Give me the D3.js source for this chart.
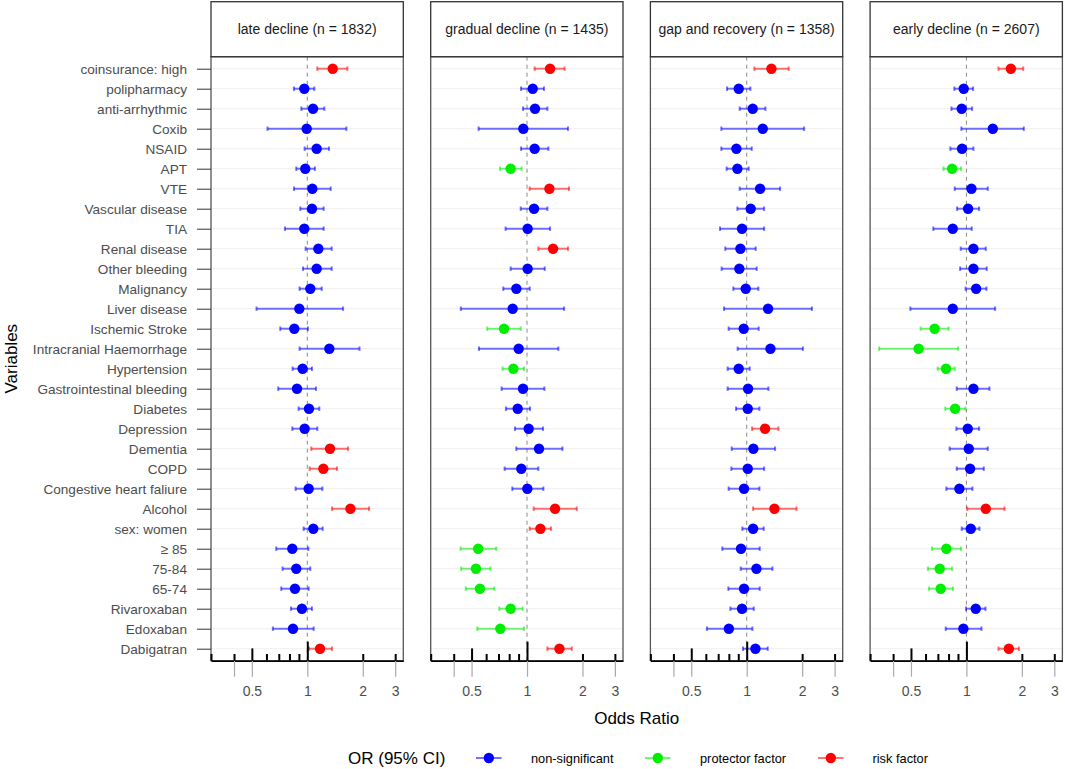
<!DOCTYPE html>
<html>
<head>
<meta charset="utf-8">
<script src="https://cdn.jsdelivr.net/npm/d3@7"></script>
<style>
  body { margin: 0; background: #fff; }
  text { font-family: "Liberation Sans", Arial, sans-serif; }
</style>
</head>
<body>
<script>
// ---------------- DATA ----------------
const variables = ["coinsurance: high","polipharmacy","anti-arrhythmic","Coxib","NSAID","APT","VTE",
  "Vascular disease","TIA","Renal disease","Other bleeding","Malignancy","Liver disease","Ischemic Stroke",
  "Intracranial Haemorrhage","Hypertension","Gastrointestinal bleeding","Diabetes","Depression","Dementia",
  "COPD","Congestive heart faliure","Alcohol","sex: women","\u2265 85","75-84","65-74","Rivaroxaban",
  "Edoxaban","Dabigatran"];

const panelTitles = ["late decline (n = 1832)","gradual decline (n = 1435)","gap and recovery (n = 1358)","early decline (n = 2607)"];

// late decline
const lateOR = [1.374,0.963,1.074,0.992,1.124,0.975,1.065,1.060,0.963,1.148,1.124,1.038,0.905,0.850,1.317,
  0.943,0.879,1.021,0.967,1.328,1.222,1.017,1.714,1.078,0.829,0.871,0.857,0.935,0.836,1.172];
const lateLo = [1.133,0.846,0.928,0.608,0.967,0.871,0.846,0.916,0.756,0.979,0.947,0.908,0.530,0.713,0.908,
  0.832,0.695,0.897,0.829,1.051,1.030,0.864,1.362,0.955,0.678,0.734,0.722,0.815,0.650,1.021];
const lateHi = [1.650,1.092,1.237,1.630,1.312,1.100,1.340,1.227,1.227,1.356,1.356,1.197,1.564,1.008,1.920,
  1.060,1.115,1.162,1.133,1.665,1.450,1.207,2.165,1.212,1.013,1.038,1.017,1.060,1.083,1.362];
const lateSig = ["r","n","n","n","n","n","n","n","n","n","n","n","n","n","n",
  "n","n","n","n","r","r","n","r","n","n","n","n","n","n","r"];

// gradual decline
const gradOR = [1.334,1.074,1.105,0.955,1.100,0.815,1.323,1.092,1.008,1.385,1.008,0.875,0.836,0.750,0.901,
  0.843,0.951,0.890,1.021,1.162,0.931,1.004,1.420,1.182,0.543,0.528,0.555,0.815,0.716,1.500];
const gradLo = [1.100,0.928,0.951,0.546,0.928,0.713,1.034,0.924,0.765,1.152,0.815,0.743,0.437,0.608,0.548,
  0.737,0.728,0.768,0.860,0.875,0.756,0.832,1.087,1.034,0.436,0.439,0.465,0.707,0.537,1.290];
const gradHi = [1.600,1.237,1.290,1.670,1.306,0.935,1.690,1.290,1.334,1.670,1.248,1.034,1.590,0.924,1.480,
  0.963,1.243,1.038,1.222,1.557,1.152,1.227,1.863,1.350,0.681,0.634,0.664,0.947,0.963,1.750];
const gradSig = ["r","n","n","n","n","p","r","n","n","r","n","n","n","p","n",
  "p","n","n","n","n","n","n","r","r","p","p","p","p","p","r"];

// gap and recovery
const gapOR = [1.362,0.905,1.078,1.222,0.879,0.890,1.182,1.051,0.943,0.924,0.912,0.988,1.306,0.963,1.345,
  0.905,1.017,1.013,1.258,1.087,1.013,0.967,1.414,1.083,0.931,1.129,0.967,0.943,0.800,1.115];
const gapLo = [1.100,0.782,0.916,0.728,0.728,0.778,0.916,0.890,0.716,0.765,0.731,0.846,0.753,0.798,0.893,
  0.788,0.788,0.875,1.069,0.829,0.825,0.798,1.083,0.947,0.737,0.928,0.795,0.815,0.608,0.955];
const gapHi = [1.690,1.047,1.264,2.050,1.065,1.025,1.518,1.243,1.243,1.119,1.133,1.157,2.260,1.162,2.020,
  1.038,1.312,1.172,1.487,1.426,1.243,1.172,1.863,1.237,1.177,1.379,1.177,1.092,1.074,1.300];
const gapSig = ["r","n","n","n","n","n","n","n","n","n","n","n","n","n","n",
  "n","n","n","r","n","n","n","r","n","n","n","n","n","n","n"];

// early decline
const earlyOR = [1.743,0.967,0.943,1.391,0.947,0.836,1.065,1.021,0.843,1.092,1.092,1.129,0.843,0.672,0.550,
  0.775,1.092,0.868,1.017,1.030,1.047,0.916,1.274,1.056,0.778,0.716,0.725,1.124,0.963,1.700];
const earlyLo = [1.493,0.860,0.829,0.939,0.818,0.750,0.864,0.890,0.661,0.931,0.924,0.990,0.496,0.564,0.336,
  0.698,0.886,0.768,0.882,0.811,0.886,0.778,1.010,0.943,0.650,0.618,0.626,0.995,0.772,1.493];
const earlyHi = [2.035,1.087,1.074,2.050,1.092,0.935,1.306,1.172,1.069,1.274,1.290,1.285,1.432,0.800,0.901,
  0.864,1.334,0.988,1.172,1.306,1.243,1.078,1.610,1.177,0.935,0.836,0.846,1.269,1.207,1.928];
const earlySig = ["r","n","n","n","n","p","n","n","n","n","n","n","n","p","p",
  "p","n","p","n","n","n","n","r","n","p","p","p","n","n","r"];

const xDomain = [0.3, 3.32];
const tickValuesMajor = [0.4, 0.5, 1, 2, 3];
const tickLabels = ["", "0.5", "1", "2", "3"];
const minorTicks = [0.3, 0.4, 0.6, 0.7, 0.8, 0.9, 2, 3];

const sigKeys = ["n", "p", "r"];
const sigLabels = ["non-significant", "protector factor", "risk factor"];
const sigColors = ["#0000ff", "#00ee00", "#ff0000"];

// ---------------- LAYOUT ----------------
const W = 1065, H = 769;
const panelLeft0 = 211, panelW = 192.3, panelGap = 27.4;
const panelTop = 56.7, panelBottom = 660.7, stripTop = 1.7;

const panels = [
  {title: panelTitles[0], or: lateOR, lo: lateLo, hi: lateHi, sig: lateSig},
  {title: panelTitles[1], or: gradOR, lo: gradLo, hi: gradHi, sig: gradSig},
  {title: panelTitles[2], or: gapOR, lo: gapLo, hi: gapHi, sig: gapSig},
  {title: panelTitles[3], or: earlyOR, lo: earlyLo, hi: earlyHi, sig: earlySig}
];

const color = d3.scaleOrdinal().domain(sigKeys).range(sigColors);
const y = d3.scalePoint().domain(variables).range([panelTop, panelBottom]).padding(0.6);

const svg = d3.select("body").append("svg").attr("width", W).attr("height", H);
svg.append("rect").attr("width", W).attr("height", H).attr("fill", "#fff");

panels.forEach((p, i) => {
  const x0 = panelLeft0 + i * (panelW + panelGap);
  const x = d3.scaleLog().domain(xDomain).range([x0, x0 + panelW]);
  const g = svg.append("g");
  const rows = variables.map((v, k) => ({v, or: p.or[k], lo: p.lo[k], hi: p.hi[k], sig: p.sig[k]}));

  // gridlines
  g.selectAll("line.grid").data(variables).enter().append("line")
    .attr("x1", x0).attr("x2", x0 + panelW)
    .attr("y1", d => y(d)).attr("y2", d => y(d))
    .attr("stroke", "#ebebeb").attr("stroke-width", 0.8);

  // dashed reference at 1
  g.append("line").attr("x1", x(1)).attr("x2", x(1)).attr("y1", panelTop).attr("y2", panelBottom)
    .attr("stroke", "#8a8a8a").attr("stroke-width", 1).attr("stroke-dasharray", "4,4");

  // error bars
  const eb = g.selectAll("g.eb").data(rows).enter().append("g")
    .attr("stroke", d => color(d.sig)).attr("stroke-opacity", 0.55).attr("stroke-width", 2);
  eb.append("line").attr("x1", d => x(d.lo)).attr("x2", d => x(d.hi))
    .attr("y1", d => y(d.v)).attr("y2", d => y(d.v));
  eb.append("line").attr("x1", d => x(d.lo)).attr("x2", d => x(d.lo))
    .attr("y1", d => y(d.v) - 2.2).attr("y2", d => y(d.v) + 2.2);
  eb.append("line").attr("x1", d => x(d.hi)).attr("x2", d => x(d.hi))
    .attr("y1", d => y(d.v) - 2.2).attr("y2", d => y(d.v) + 2.2);

  // points
  g.selectAll("circle.pt").data(rows).enter().append("circle")
    .attr("cx", d => x(d.or)).attr("cy", d => y(d.v)).attr("r", 5.2)
    .attr("fill", d => color(d.sig));

  // panel border
  g.append("rect").attr("x", x0).attr("y", panelTop).attr("width", panelW).attr("height", panelBottom - panelTop)
    .attr("fill", "none").attr("stroke", "#555").attr("stroke-width", 1.3);

  // strip
  g.append("rect").attr("x", x0).attr("y", stripTop).attr("width", panelW).attr("height", panelTop - stripTop)
    .attr("fill", "#fff").attr("stroke", "#333").attr("stroke-width", 1.3);
  g.append("text").attr("x", x0 + panelW / 2).attr("y", (stripTop + panelTop) / 2)
    .attr("text-anchor", "middle").attr("dominant-baseline", "central")
    .attr("font-size", 14).attr("fill", "#1a1a1a").text(p.title);

  // lower axis: grey long ticks and labels
  const ax = d3.axisBottom(x).tickValues(tickValuesMajor)
    .tickFormat((d, k) => tickLabels[k]).tickSizeInner(16).tickSizeOuter(0).tickPadding(9);
  const axg = g.append("g").attr("transform", `translate(0,${panelBottom})`).call(ax);
  axg.select(".domain").attr("stroke", "#000").attr("stroke-width", 1.6);
  axg.selectAll(".tick line").attr("stroke", "#aaa").attr("stroke-width", 1.2);
  axg.selectAll(".tick text").attr("font-size", 14).attr("fill", "#4d4d4d")
    .attr("font-family", "Liberation Sans, Arial, sans-serif");

  // inner black log ticks
  const minorAx = d3.axisBottom(x).tickValues(minorTicks).tickFormat("").tickSizeInner(-6.7).tickSizeOuter(0);
  const mg = g.append("g").attr("transform", `translate(0,${panelBottom})`).call(minorAx);
  mg.select(".domain").remove();
  mg.selectAll(".tick line").attr("stroke", "#000").attr("stroke-width", 2);
  const halfAx = d3.axisBottom(x).tickValues([0.5]).tickFormat("").tickSizeInner(-12.3).tickSizeOuter(0);
  const hg = g.append("g").attr("transform", `translate(0,${panelBottom})`).call(halfAx);
  hg.select(".domain").remove();
  hg.selectAll(".tick line").attr("stroke", "#000").attr("stroke-width", 2);
  const oneAx = d3.axisBottom(x).tickValues([1]).tickFormat("").tickSizeInner(-19).tickSizeOuter(0);
  const og = g.append("g").attr("transform", `translate(0,${panelBottom})`).call(oneAx);
  og.select(".domain").remove();
  og.selectAll(".tick line").attr("stroke", "#000").attr("stroke-width", 2);

  // y axis on first panel
  if (i === 0) {
    const yAx = d3.axisLeft(y).tickSizeInner(14).tickSizeOuter(0).tickPadding(10);
    const yg = g.append("g").attr("transform", `translate(${x0},0)`).call(yAx);
    yg.select(".domain").remove();
    yg.selectAll(".tick line").attr("stroke", "#333").attr("stroke-width", 1);
    yg.selectAll(".tick text").attr("font-size", 13.6).attr("fill", "#4d4d4d")
      .attr("font-family", "Liberation Sans, Arial, sans-serif");
  }
});

// axis titles
svg.append("text").attr("x", (panelLeft0 + panelLeft0 + 4 * panelW + 3 * panelGap) / 2).attr("y", 718)
  .attr("text-anchor", "middle").attr("dominant-baseline", "central")
  .attr("font-size", 17).attr("fill", "#000").text("Odds Ratio");
svg.append("text").attr("transform", `translate(11,${(panelTop + panelBottom) / 2}) rotate(-90)`)
  .attr("text-anchor", "middle").attr("dominant-baseline", "central")
  .attr("font-size", 17).attr("fill", "#000").text("Variables");

// legend
const legY = 758;
svg.append("text").attr("x", 348).attr("y", legY).attr("dominant-baseline", "central")
  .attr("font-size", 17).attr("fill", "#000").text("OR (95% CI)");
const legKeyX = [476, 645, 818];
const legTextX = [531, 700, 872.5];
sigKeys.forEach((k, j) => {
  svg.append("line").attr("x1", legKeyX[j]).attr("x2", legKeyX[j] + 25.6).attr("y1", legY).attr("y2", legY)
    .attr("stroke", color(k)).attr("stroke-opacity", 0.55).attr("stroke-width", 2);
  svg.append("circle").attr("cx", legKeyX[j] + 12.8).attr("cy", legY).attr("r", 5.2).attr("fill", color(k));
  svg.append("text").attr("x", legTextX[j]).attr("y", legY).attr("dominant-baseline", "central")
    .attr("font-size", 12.8).attr("fill", "#000").text(sigLabels[j]);
});
</script>
</body>
</html>
